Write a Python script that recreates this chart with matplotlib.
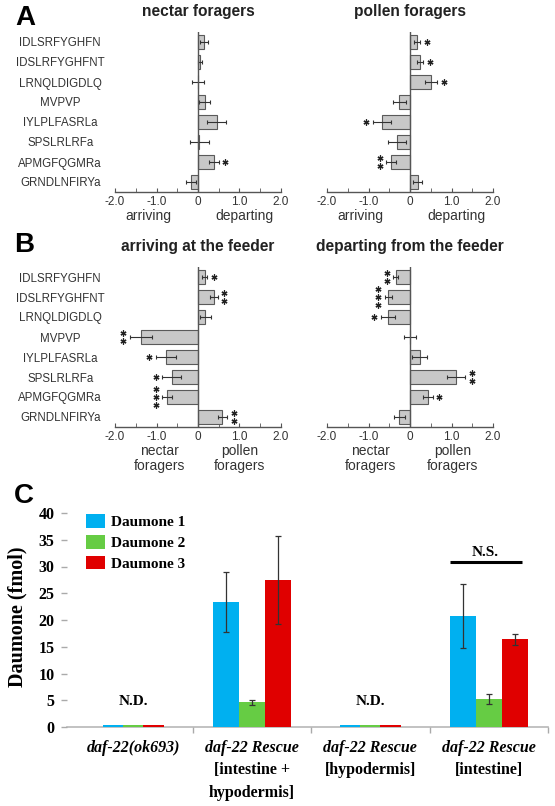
import numpy as np
import matplotlib
matplotlib.use('Agg')
import matplotlib.pyplot as plt
from matplotlib.patches import Patch
from matplotlib.transforms import blended_transform_factory as btf

# ---------------- data ----------------
peptides = ["IDLSRFYGHFN", "IDSLRFYGHFNT", "LRNQLDIGDLQ", "MVPVP",
            "IYLPLFASRLa", "SPSLRLRFa", "APMGFQGMRa", "GRNDLNFIRYa"]

nectar_vals = [0.14, 0.05, 0.0, 0.16, 0.45, 0.03, 0.38, -0.18]
nectar_err = [0.10, 0.05, 0.14, 0.13, 0.23, 0.23, 0.12, 0.12]
nectar_sig = [0, 0, 0, 0, 0, 0, 1, 0]

pollen_vals = [0.17, 0.24, 0.50, -0.26, -0.67, -0.31, -0.45, 0.19]
pollen_err = [0.07, 0.08, 0.15, 0.16, 0.22, 0.22, 0.12, 0.11]
pollen_sig = [1, 1, 1, 0, 1, 0, 2, 0]

arriving_vals = [0.16, 0.38, 0.18, -1.38, -0.78, -0.63, -0.74, 0.59]
arriving_err = [0.06, 0.09, 0.13, 0.26, 0.24, 0.23, 0.12, 0.11]
arriving_sig = [1, 2, 0, 2, 1, 1, 3, 2]

departing_vals = [-0.34, -0.52, -0.54, 0.0, 0.24, 1.11, 0.43, -0.26]
departing_err = [0.06, 0.08, 0.17, 0.15, 0.18, 0.22, 0.12, 0.13]
departing_sig = [2, 3, 1, 0, 0, 2, 1, 0]

xticks_ab = [-2.0, -1.0, 0.0, 1.0, 2.0]
xticklabels_ab = ["-2.0", "-1.0", "0", "1.0", "2.0"]

genotype_line1 = ["daf-22(ok693)", "daf-22 Rescue", "daf-22 Rescue", "daf-22 Rescue"]
genotype_rest = [[], ["[intestine +", "hypodermis]"], ["[hypodermis]"], ["[intestine]"]]
detected = [False, True, False, True]
series_names = ["Daumone 1", "Daumone 2", "Daumone 3"]
daumone1 = [0.35, 23.3, 0.35, 20.8]
daumone1_err = [0.0, 5.6, 0.0, 6.0]
daumone2 = [0.35, 4.6, 0.35, 5.25]
daumone2_err = [0.0, 0.4, 0.0, 0.9]
daumone3 = [0.35, 27.5, 0.35, 16.4]
daumone3_err = [0.0, 8.2, 0.0, 1.0]
ns_value = 30.8
nd_label_value = 4.7

# ---------------- style ----------------
SANS = ['Liberation Sans', 'DejaVu Sans']
SERIF = ['Liberation Serif', 'DejaVu Serif']
plt.rcParams['font.family'] = SANS

W, H = 555, 806
fig = plt.figure(figsize=(W / 100, H / 100), dpi=100)


def rect(l, t, r, b):
    return [l / W, 1 - b / H, (r - l) / W, (b - t) / H]


def hbar_panel(ax, vals, errs, sig, title, left_lbl, right_lbl, lbl_y, show_names):
    y = np.arange(len(peptides))
    ax.barh(y, vals, height=0.7, color='#c8c8c8', edgecolor='#5a5a5a', linewidth=0.8, zorder=2)
    ax.errorbar(vals, y, xerr=errs, fmt='none', ecolor='#333333', elinewidth=0.8,
                capsize=1.2, capthick=0.8, zorder=3)
    ax.axvline(0, color='#555555', lw=1.0, zorder=4)
    ax.set_xlim(-2, 2)
    ax.set_ylim(len(peptides) - 0.5, -0.5)
    for s in ['top', 'right', 'left']:
        ax.spines[s].set_visible(False)
    ax.spines['bottom'].set_color('#555555')
    ax.spines['bottom'].set_linewidth(1.0)
    ax.set_xticks(xticks_ab)
    ax.set_xticklabels(xticklabels_ab)
    ax.set_xticks(np.arange(-2, 2.01, 0.5), minor=True)
    ax.tick_params(axis='x', which='both', direction='in', length=3, color='#555555',
                   labelsize=8.5, labelcolor='#333333', pad=3)
    ax.set_yticks(y)
    if show_names:
        ax.set_yticklabels(peptides)
        ax.tick_params(axis='y', length=0, pad=39.5, labelsize=8.3, labelcolor='#333333')
        for t in ax.get_yticklabels():
            t.set_ha('center')
    else:
        ax.set_yticklabels([])
        ax.tick_params(axis='y', length=0)
    ax.text(0.5, 1.127, title, transform=ax.transAxes, ha='center', va='center',
            fontsize=11.2, fontweight='bold', color='#222222')
    tr = btf(ax.transData, ax.transAxes)
    ax.text(left_lbl[0], lbl_y, left_lbl[1], transform=tr, ha='center', va='center',
            fontsize=10, color='#333333', linespacing=1.1)
    ax.text(right_lbl[0], lbl_y, right_lbl[1], transform=tr, ha='center', va='center',
            fontsize=10, color='#333333', linespacing=1.1)
    for i, (v, e, n) in enumerate(zip(vals, errs, sig)):
        if n == 0:
            continue
        sgn = 1 if v >= 0 else -1
        xs = v + sgn * (e + 0.16)
        offs = (np.arange(n) - (n - 1) / 2) * 0.39
        ax.plot([xs] * n, i + offs, ls='none', marker=(6, 2, 0), ms=4.3, mew=0.9,
                color='#222222', zorder=5, clip_on=False)


axA1 = fig.add_axes(rect(115, 32, 281, 192))
axA2 = fig.add_axes(rect(327, 32, 493, 192))
axB1 = fig.add_axes(rect(115, 267, 281, 427))
axB2 = fig.add_axes(rect(327, 267, 493, 427))

hbar_panel(axA1, nectar_vals, nectar_err, nectar_sig, "nectar foragers",
           (-1.2, "arriving"), (1.13, "departing"), -0.15, True)
hbar_panel(axA2, pollen_vals, pollen_err, pollen_sig, "pollen foragers",
           (-1.2, "arriving"), (1.13, "departing"), -0.15, False)
hbar_panel(axB1, arriving_vals, arriving_err, arriving_sig, "arriving at the feeder",
           (-0.93, "nectar\nforagers"), (1.0, "pollen\nforagers"), -0.195, True)
hbar_panel(axB2, departing_vals, departing_err, departing_sig, "departing from the feeder",
           (-0.95, "nectar\nforagers"), (1.02, "pollen\nforagers"), -0.195, False)

for letter, (px, py) in zip("ABC", [(25, 18), (24, 245), (24, 496)]):
    fig.text(px / W, 1 - py / H, letter, ha='center', va='center', fontsize=20,
             fontweight='bold', family=SANS)

# ---------------- panel C ----------------
axC = fig.add_axes(rect(67, 513, 548, 727))
colors = ['#00B0F0', '#66CC44', '#E00000']
x = np.arange(len(genotype_line1))
bw = 0.22
nd_bw = 0.17
series = [(daumone1, daumone1_err), (daumone2, daumone2_err), (daumone3, daumone3_err)]
for k, ((vals, errs), c) in enumerate(zip(series, colors)):
    widths = np.array([bw if d else nd_bw for d in detected])
    xs = x + (k - 1) * widths
    axC.bar(xs, vals, width=widths, color=c, edgecolor='none', zorder=4)
    det = np.array(detected)
    axC.errorbar(xs[det], np.array(vals)[det], yerr=np.array(errs)[det], fmt='none',
                 ecolor='#333333', elinewidth=0.9, capsize=2, capthick=0.9, zorder=5)

axC.set_xlim(-0.56, 3.48)
axC.set_ylim(0, 40)
for s in ['top', 'right', 'left']:
    axC.spines[s].set_visible(False)
axC.spines['bottom'].set_color('#b8b8b8')
axC.spines['bottom'].set_linewidth(1.2)
axC.spines['bottom'].set_zorder(1)
axC.set_yticks(np.arange(0, 41, 5))
axC.tick_params(axis='y', direction='out', length=4, color='#aaaaaa', width=1, pad=5)
for t in axC.get_yticklabels():
    t.set_family(SERIF)
    t.set_fontweight('bold')
    t.set_fontsize(11.5)
axC.set_xticks(x)
axC.set_xticklabels([])
axC.tick_params(axis='x', which='major', length=0)
axC.set_xticks(x + 0.5, minor=True)
axC.tick_params(axis='x', which='minor', direction='out', length=4, color='#aaaaaa', width=1)

trC = btf(axC.transData, axC.transAxes)
line_y = [-0.098, -0.201, -0.308]
for i in range(len(x)):
    axC.text(x[i], line_y[0], genotype_line1[i], transform=trC, ha='center', va='center',
             fontsize=11.5, fontweight='bold', fontstyle='italic', family=SERIF)
    for j, t in enumerate(genotype_rest[i]):
        axC.text(x[i], line_y[j + 1], t, transform=trC, ha='center', va='center',
                 fontsize=11.5, fontweight='bold', family=SERIF)
    if not detected[i]:
        axC.text(x[i], nd_label_value, "N.D.", ha='center', va='center', fontsize=11,
                 fontweight='bold', family=SERIF)

axC.plot([x[3] - 0.33, x[3] + 0.28], [ns_value, ns_value], color='black', lw=2.2,
         solid_capstyle='butt')
axC.text(x[3] - 0.03, ns_value + 1.8, "N.S.", ha='center', va='center', fontsize=11,
         fontweight='bold', family=SERIF)

fig.text(17 / W, 1 - 617 / H, "Daumone (fmol)", rotation=90, ha='center', va='center',
         fontsize=14.5, fontweight='bold', family=SERIF)

handles = [Patch(facecolor=c, edgecolor='none') for c in colors]
axC.legend(handles, series_names, loc='upper left', bbox_to_anchor=(0.04, 0.995),
           frameon=False, handlelength=1.2, handleheight=1.0, handletextpad=0.4,
           labelspacing=0.38, borderpad=0, borderaxespad=0,
           prop={'family': SERIF, 'weight': 'bold', 'size': 11})

fig.savefig('out.png', dpi=100)
